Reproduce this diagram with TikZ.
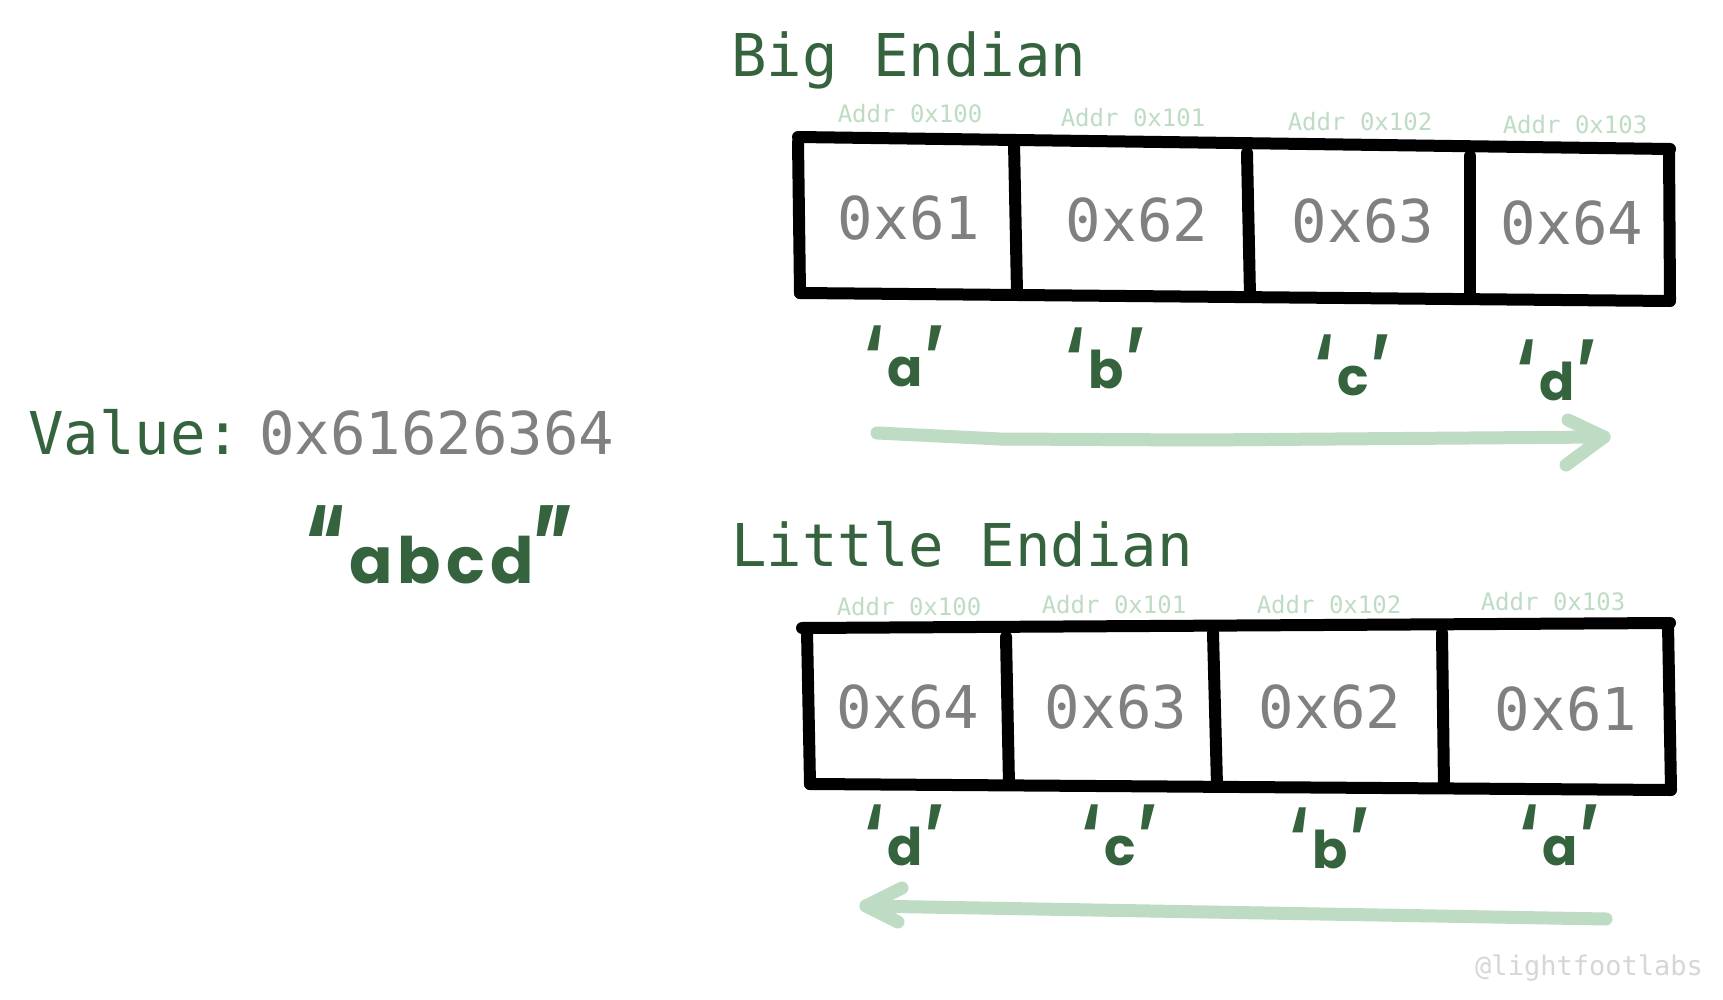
\documentclass[tikz,border=0pt]{standalone}
\usepackage{fontspec}
\usepackage{graphicx}
\newfontfamily\monof{DejaVu Sans Mono}
\newfontfamily\handf{Poppins}
\newfontfamily\handwide{Poppins}[LetterSpace=8]
\definecolor{dkgreen}{RGB}{53,99,62}
\definecolor{valgray}{RGB}{128,128,128}
\definecolor{lightgrn}{RGB}{190,220,196}
\definecolor{wmgray}{RGB}{214,214,214}
\newcommand{\tallq}[1]{\raisebox{-0.1em}{\scalebox{1.15}[1.8]{#1}}}
\newcommand{\handq}[1]{\tallq{‘}\kern0.06em#1\kern0.06em\tallq{’}}
\begin{document}
\begin{tikzpicture}[x=1pt,y=-1pt,
  boxline/.style={line width=12pt, line cap=round, line join=round, draw=black},
  arrowline/.style={line width=13pt, line cap=round, line join=round, draw=lightgrn},
  title/.style={font=\monof\fontsize{59}{60}\selectfont, text=dkgreen, inner sep=0pt, anchor=base west},
  hexval/.style={font=\monof\fontsize{59}{60}\selectfont, text=valgray, inner sep=0pt, anchor=base},
  addr/.style={font=\monof\fontsize{24}{26}\selectfont, text=lightgrn, inner sep=0pt, anchor=base},
  hand/.style={font=\handf\bfseries\fontsize{52}{56}\selectfont, text=dkgreen, inner sep=0pt, anchor=base},
  bighand/.style={font=\handwide\bfseries\fontsize{64}{70}\selectfont, text=dkgreen, inner sep=0pt, anchor=base},
  wmark/.style={font=\monof\fontsize{27}{29}\selectfont, text=wmgray, inner sep=0pt, anchor=base east}
]
\useasboundingbox (0,0) rectangle (1723,1000);
\fill[white] (0,0) rectangle (1723,1000);

% ---------- titles and value ----------
\node[title] (bigtitle) at (731,77) {Big Endian};
\node[title] (littletitle) at (731,566) {Little Endian};
\node[title] (value) at (28,454) {Value: \kern-0.5em\textcolor{valgray}{0x61626364}};
\node[bighand] (abcd) at (440,583) {\raisebox{-0.05em}{\scalebox{1.15}[1.8]{“}}\kern0.05em abcd\raisebox{-0.05em}{\scalebox{1.15}[1.8]{”}}};

% ---------- big endian box ----------
\draw[boxline] (798,137) -- (1670,149);
\draw[boxline] (798,142) -- (800,293);
\draw[boxline] (800,293) -- (1670,301);
\draw[boxline] (1669,150) -- (1670,300);
\draw[boxline] (1014,143) -- (1017,293);
\draw[boxline] (1247,153) -- (1250,296);
\draw[boxline] (1470,156) -- (1470,298);

\node[addr] (ba0) at (910,123) {Addr 0x100};
\node[addr] (ba1) at (1133,127) {Addr 0x101};
\node[addr] (ba2) at (1360,131) {Addr 0x102};
\node[addr] (ba3) at (1575,134) {Addr 0x103};

\node[hexval] (bv0) at (909,240) {0x61};
\node[hexval] (bv1) at (1137,242) {0x62};
\node[hexval] (bv2) at (1363,243) {0x63};
\node[hexval] (bv3) at (1572,245) {0x64};

\node[hand] (bc0) at (905,386) {\handq{a}};
\node[hand] (bc1) at (1106,388) {\handq{b}};
\node[hand] (bc2) at (1353,395) {\handq{c}};
\node[hand] (bc3) at (1557,400) {\handq{d}};

% big endian arrow
\coordinate (bs) at (877,433);
\coordinate (bm1) at (1000,439);
\coordinate (bm2) at (1200,440);
\coordinate (be) at (1604,437);
\coordinate (bh1) at (1568,420);
\coordinate (bh2) at (1566,465);
\draw[arrowline] (bs) -- (bm1) -- (bm2) -- (be);
\draw[arrowline] (bh1) -- (be) -- (bh2);

% ---------- little endian box ----------
\draw[boxline] (802,628) -- (1670,623);
\draw[boxline] (807,631) -- (810,784);
\draw[boxline] (810,784) -- (1670,790);
\draw[boxline] (1668,625) -- (1671,790);
\draw[boxline] (1006,637) -- (1009,785);
\draw[boxline] (1213,633) -- (1217,786);
\draw[boxline] (1442,633) -- (1444,788);

\node[addr] (la0) at (909,615) {Addr 0x100};
\node[addr] (la1) at (1114,613) {Addr 0x101};
\node[addr] (la2) at (1329,613) {Addr 0x102};
\node[addr] (la3) at (1553,610) {Addr 0x103};

\node[hexval] (lv0) at (908,728) {0x64};
\node[hexval] (lv1) at (1116,728) {0x63};
\node[hexval] (lv2) at (1330,728) {0x62};
\node[hexval] (lv3) at (1566,730) {0x61};

\node[hand] (lc0) at (905,865) {\handq{d}};
\node[hand] (lc1) at (1120,865) {\handq{c}};
\node[hand] (lc2) at (1330,868) {\handq{b}};
\node[hand] (lc3) at (1560,865) {\handq{a}};

% little endian arrow
\coordinate (ls) at (1606,919);
\coordinate (le) at (866,906);
\coordinate (lh1) at (902,888);
\coordinate (lh2) at (898,922);
\draw[arrowline] (ls) -- (le);
\draw[arrowline] (lh1) -- (le) -- (lh2);

% watermark
\node[wmark] (wm) at (1703,975) {@lightfootlabs};
\end{tikzpicture}
\end{document}
